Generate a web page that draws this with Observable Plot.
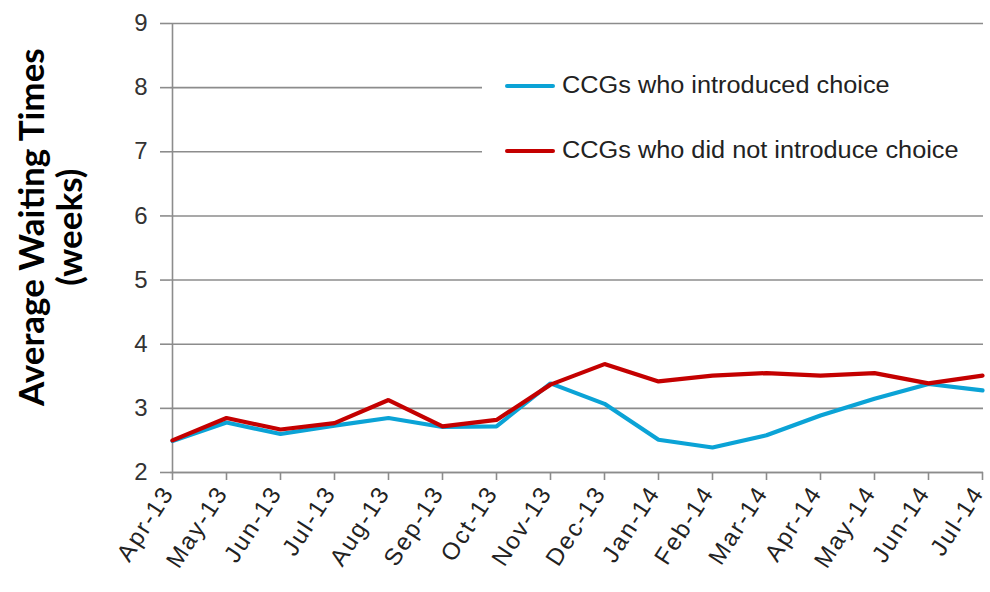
<!DOCTYPE html>
<html>
<head>
<meta charset="utf-8">
<script src="https://cdn.jsdelivr.net/npm/d3@7"></script>
<script src="https://cdn.jsdelivr.net/npm/@observablehq/plot@0.6"></script>
<style>
  body { margin: 0; background: #fff; }
  #wrap { position: relative; width: 990px; height: 592px; overflow: hidden; }
  #ytitle {
    position: absolute; left: 0; top: 0;
    font-family: Lato, "Open Sans", "Liberation Sans", Arial, sans-serif;
    font-weight: bold; font-size: 35px; line-height: 38px; color: #000;
    text-align: center; white-space: nowrap;
    transform-origin: 0 0;
  }
  #legend {
    position: absolute; left: 482px; top: 62px; width: 508px; height: 112px;
    background: #fff;
    font-family: "Liberation Sans", Arial, sans-serif; font-size: 23px; color: #222;
  }
  .item { position: absolute; left: 23px; display: flex; align-items: center; }
  .sw { width: 50px; height: 4px; margin-right: 7px; border-radius: 2px; flex: none; }
  .lbl { display: inline-block; transform: scaleX(1.1); transform-origin: left center; white-space: nowrap; }
  g[aria-label="x-axis tick label"] text { letter-spacing: 2px; }
</style>
</head>
<body>
<div id="wrap"></div>
<script>
// Monthly average waiting times (weeks), April 2013 – July 2014
const months = ["Apr-13","May-13","Jun-13","Jul-13","Aug-13","Sep-13","Oct-13","Nov-13",
                "Dec-13","Jan-14","Feb-14","Mar-14","Apr-14","May-14","Jun-14","Jul-14"];
const introduced    = [2.49, 2.78, 2.60, 2.73, 2.85, 2.71, 2.72, 3.39, 3.07, 2.51, 2.39, 2.58, 2.89, 3.15, 3.38, 3.28];
const notIntroduced = [2.50, 2.85, 2.67, 2.77, 3.13, 2.72, 2.82, 3.37, 3.69, 3.42, 3.51, 3.55, 3.51, 3.55, 3.39, 3.51];
const seriesNames = ["CCGs who introduced choice", "CCGs who did not introduce choice"];
const seriesColors = ["#0ba3d6", "#c40000"];
const yTicks = [2, 3, 4, 5, 6, 7, 8, 9];

const rows = [
  ...months.map((m, i) => ({month: m, value: introduced[i], series: seriesNames[0]})),
  ...months.map((m, i) => ({month: m, value: notIntroduced[i], series: seriesNames[1]}))
];

const gridColor = "#8c8c8c";

const chart = Plot.plot({
  width: 990,
  height: 592,
  marginLeft: 170,
  marginRight: 7,
  marginTop: 23,
  marginBottom: 120,
  style: {fontFamily: "'Liberation Sans', Arial, sans-serif", color: "#333", background: "#fff", overflow: "visible"},
  x: {type: "point", domain: months, padding: 0, label: null},
  y: {domain: [2, 9], label: null},
  color: {domain: seriesNames, range: seriesColors},
  marks: [
    Plot.gridY(yTicks, {stroke: gridColor, strokeOpacity: 1, strokeWidth: 1.6}),
    Plot.axisY(yTicks, {tickSize: 10, tickPadding: 13, tickFormat: d => String(d), fontSize: 24,
      stroke: gridColor, strokeWidth: 1.6, fill: "#333", label: null}),
    // month tick marks
    Plot.axisX(months, {tickSize: 8, tickFormat: () => "", stroke: gridColor, strokeWidth: 1.6, label: null}),
    // month labels, rotated and nudged left of their ticks
    Plot.axisX(months, {tickSize: 0, tickPadding: 16, tickRotate: -57, fontSize: 24, dx: -4,
      fill: "#222", label: null}),
    Plot.ruleX([months[0]], {stroke: gridColor, strokeWidth: 1.6}),
    Plot.ruleY([2], {stroke: gridColor, strokeWidth: 1.6}),
    Plot.line(rows, {x: "month", y: "value", z: "series", stroke: "series", strokeWidth: 4.2, strokeLinejoin: "miter"})
  ]
});

const wrap = document.getElementById("wrap");
wrap.appendChild(chart);

// Rotated two-line y-axis title
const title = document.createElement("div");
title.id = "ytitle";
title.innerHTML = "Average Waiting Times<br>(weeks)";
wrap.appendChild(title);
const tw = title.offsetWidth, th = title.offsetHeight;
const cx = 49, cy = 227;
title.style.transform = `translate(${cx - th / 2}px, ${cy + tw / 2}px) rotate(-90deg)`;

// Legend over the upper-right of the plot
const legend = document.createElement("div");
legend.id = "legend";
seriesNames.forEach((name, i) => {
  const item = document.createElement("div");
  item.className = "item";
  item.style.top = (i === 0 ? 10 : 75) + "px";
  item.innerHTML = `<span class="sw" style="background:${seriesColors[i]}"></span><span class="lbl">${name}</span>`;
  legend.appendChild(item);
});
wrap.appendChild(legend);
</script>
</body>
</html>
